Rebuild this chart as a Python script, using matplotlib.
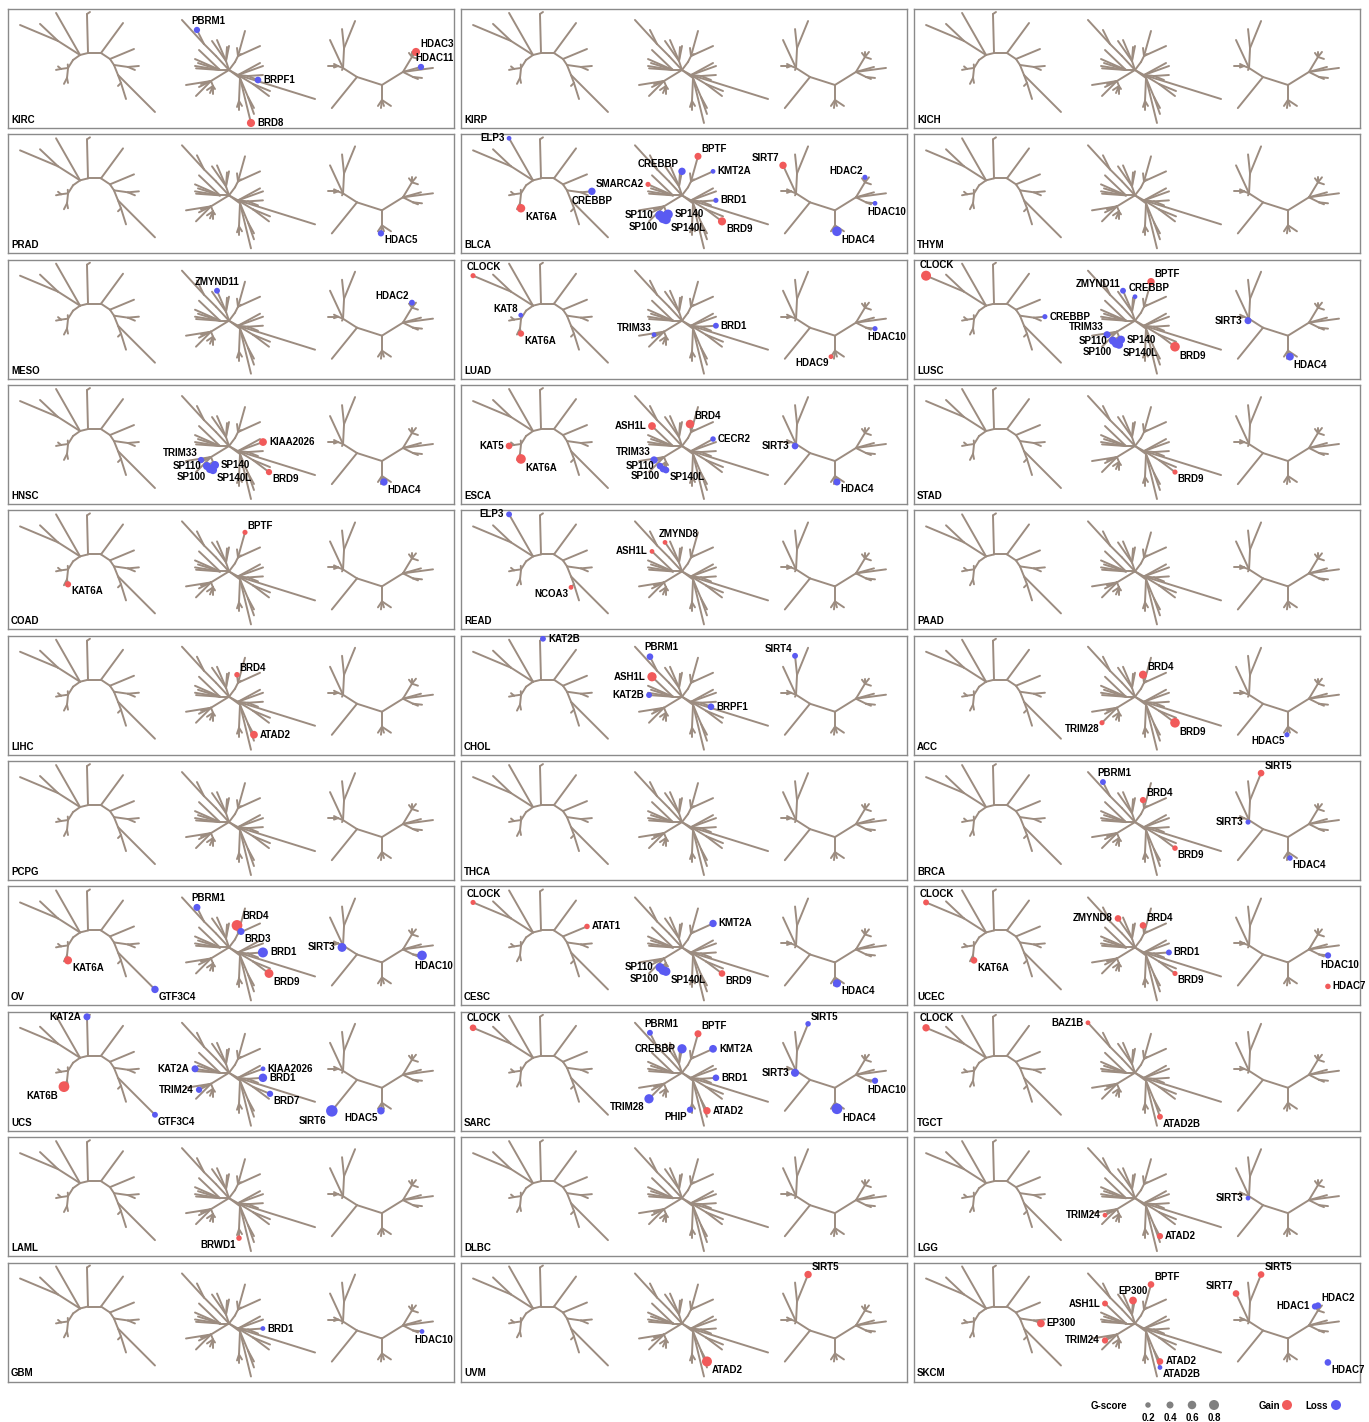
import numpy as np
import matplotlib
matplotlib.use('Agg')
import matplotlib.pyplot as plt
from matplotlib.collections import LineCollection

plt.rcParams['font.family'] = ['Liberation Sans', 'DejaVu Sans']

# tree branches: (node, parent, branch length, angle in degrees)
hat_tree = [
    ('KAT2A', 'root', 39, 91.5), ('KAT2B', 'KAT2A', 3.6, 34),
    ('h1', 'root', 8.2, 194), ('ELP3', 'h1', 48.4, 119.7),
    ('h2', 'h1', 26.1, 147.5), ('CLOCK', 'h2', 41.2, 157.2), ('h_t1', 'h2', 24.8, 136.6),
    ('h3', 'h1', 8.6, 215.5), ('h4', 'h3', 9.4, 238),
    ('h5', 'h4', 7.1, 188), ('KAT5', 'h5', 5.1, 191), ('h_t2', 'h5', 3.9, 140),
    ('KAT8', 'h4', 3.5, 95), ('h6', 'h4', 10, 264),
    ('KAT6A', 'h6', 5.1, 281), ('KAT6B', 'h6', 6.7, 243),
    ('h7', 'root', 13, 0), ('h_t3', 'h7', 37.2, 53.7),
    ('h8', 'h7', 10.8, 326.3), ('ATAT1', 'h8', 26, 22.6),
    ('h9', 'h8', 7.2, 303.7), ('h10', 'h9', 14.1, 351.9),
    ('CREBBP', 'h10', 11, 5.2), ('EP300', 'h10', 7.6, 336.8),
    ('h11', 'h9', 10.8, 291.8), ('GTF3C4', 'h11', 52.3, 315),
    ('h12', 'h11', 8.5, 290.6), ('h_t4', 'h12', 16.8, 287.4), ('NCOA3', 'h12', 4.2, 225),
]
brd_tree = [
    ('b1', 'root', 19.1, 132.9), ('b2', 'b1', 17, 135),
    ('BAZ1B', 'b2', 32.6, 132.5), ('PBRM1', 'b2', 15.7, 116.6),
    ('b3', 'root', 9.5, 108.4), ('ZMYND8', 'b3', 24.4, 125), ('ZMYND11', 'b3', 22.8, 113.2),
    ('CREBBP', 'b3', 15.3, 78.7), ('EP300', 'b3', 14, 85.9),
    ('b4', 'root', 10, 53.1), ('b5', 'b4', 6.7, 63.4),
    ('BPTF', 'b5', 26, 74.4), ('KMT2A', 'b5', 24.2, 24.4),
    ('BRD4', 'b5', 8.1, 97.1), ('BRD3', 'b5', 3.6, 33.7),
    ('b6', 'root', 9, 180), ('ASH1L', 'b6', 29, 136.4), ('SMARCA2', 'b6', 27.3, 156.3),
    ('b_t1', 'b6', 23.1, 162.4), ('KAT2A', 'b6', 25.3, 170.9), ('KAT2B', 'b6', 24, 176),
    ('b7', 'root', 21.1, 211.4), ('b_t2', 'b7', 25.3, 189.1),
    ('TRIM33', 'b7', 10.4, 196.7), ('TRIM24', 'b7', 13.4, 206.6), ('TRIM28', 'b7', 21.2, 225),
    ('b8', 'b7', 5.4, 291.8), ('SP110', 'b8', 7.2, 213.7), ('SP100', 'b8', 7.6, 246.8),
    ('SP140', 'b8', 3.6, 303.7), ('SP140L', 'b8', 8, 270),
    ('b9', 'root', 10.3, 330.9), ('CECR2', 'b9', 25.1, 28.6), ('KIAA2026', 'b9', 26.6, 19.8),
    ('b10', 'b9', 10, 354.3), ('BRD1', 'b10', 15, 3.8), ('BRPF1', 'b10', 10.8, 338.2),
    ('b_t3', 'b9', 80.7, 342.7), ('b11', 'b9', 17.5, 329),
    ('BRD7', 'b11', 18.4, 337.6), ('BRD9', 'b11', 20, 323.1),
    ('b12', 'root', 13.6, 324), ('b13', 'b12', 23, 267.5),
    ('PHIP', 'b13', 6.3, 251.6), ('BRWD1', 'b13', 9, 270), ('b_t4', 'b13', 5.8, 301),
    ('b14', 'b12', 20.6, 292.8), ('ATAD2', 'b14', 12.5, 298.6), ('ATAD2B', 'b14', 18, 289.4),
    ('BRD8', 'b12', 46.3, 283.7),
]
hdac_tree = [
    ('d1', 'root', 16.6, 147.3), ('SIRT3', 'd1', 2.2, 243),
    ('d2', 'd1', 20, 87.1), ('SIRT5', 'd2', 29.2, 67.8), ('SIRT4', 'd2', 19.1, 96),
    ('SIRT7', 'd1', 30.9, 114.9), ('d3', 'd1', 5.4, 158.2),
    ('SIRT1', 'd3', 10, 180), ('d_t1', 'd3', 4.5, 153), ('SIRT2', 'd3', 4.3, 200),
    ('SIRT6', 'root', 40, 231),
    ('d4', 'root', 26.2, 342.3), ('d5', 'd4', 15, 270),
    ('HDAC9', 'd5', 7.2, 236.3), ('HDAC5', 'd5', 8.1, 262.9), ('HDAC4', 'd5', 6.3, 288.4),
    ('d_t2', 'd5', 10.8, 326.3), ('HDAC7', 'd_t2', 31.1, 354.5),
    ('d6', 'd4', 24.7, 31.8), ('d7', 'd6', 17.5, 59),
    ('HDAC1', 'd7', 5, 126.9), ('HDAC2', 'd7', 5, 90), ('HDAC3', 'd7', 6.4, 51.3),
    ('HDAC8', 'd7', 6.3, 341.6), ('HDAC11', 'd6', 18.7, 15.5), ('d_t3', 'd6', 30.3, 7.6),
    ('d8', 'd6', 11.2, 333.4), ('HDAC10', 'd8', 9.1, 353.7), ('HDAC6', 'd8', 5.4, 338),
]
hidden_branches = {'HDAC7'}

# altered genes per cancer: (tree, gene, G-score, direction)
KIRC = [('brd', 'PBRM1', 0.3, 'loss'), ('brd', 'BRPF1', 0.35, 'loss'), ('brd', 'BRD8', 0.55, 'gain'),
        ('hdac', 'HDAC3', 0.55, 'gain'), ('hdac', 'HDAC11', 0.3, 'loss')]
KIRP = []
KICH = []
PRAD = [('hdac', 'HDAC5', 0.3, 'loss')]
BLCA = [('hat', 'ELP3', 0.1, 'loss'), ('hat', 'KAT6A', 0.6, 'gain'), ('hat', 'CREBBP', 0.45, 'loss'),
        ('brd', 'SMARCA2', 0.15, 'gain'), ('brd', 'CREBBP', 0.45, 'loss'), ('brd', 'BPTF', 0.4, 'gain'),
        ('brd', 'KMT2A', 0.1, 'loss'), ('brd', 'BRD1', 0.15, 'loss'), ('brd', 'BRD9', 0.55, 'gain'),
        ('brd', 'SP110', 0.75, 'loss'), ('brd', 'SP100', 0.75, 'loss'), ('brd', 'SP140', 0.75, 'loss'),
        ('brd', 'SP140L', 0.75, 'loss'), ('hdac', 'SIRT7', 0.45, 'gain'), ('hdac', 'HDAC2', 0.15, 'loss'),
        ('hdac', 'HDAC10', 0.1, 'loss'), ('hdac', 'HDAC4', 0.75, 'loss')]
THYM = []
MESO = [('brd', 'ZMYND11', 0.25, 'loss'), ('hdac', 'HDAC2', 0.25, 'loss')]
LUAD = [('hat', 'CLOCK', 0.15, 'gain'), ('hat', 'KAT8', 0.1, 'loss'), ('hat', 'KAT6A', 0.3, 'gain'),
        ('brd', 'TRIM33', 0.1, 'loss'), ('brd', 'BRD1', 0.25, 'loss'), ('hdac', 'HDAC10', 0.15, 'loss'),
        ('hdac', 'HDAC9', 0.1, 'gain')]
LUSC = [('hat', 'CLOCK', 0.8, 'gain'), ('hat', 'CREBBP', 0.15, 'loss'), ('brd', 'ZMYND11', 0.25, 'loss'),
        ('brd', 'BPTF', 0.45, 'gain'), ('brd', 'CREBBP', 0.1, 'loss'), ('brd', 'TRIM33', 0.4, 'loss'),
        ('brd', 'SP110', 0.55, 'loss'), ('brd', 'SP100', 0.55, 'loss'), ('brd', 'SP140', 0.55, 'loss'),
        ('brd', 'SP140L', 0.55, 'loss'), ('brd', 'BRD9', 0.75, 'gain'), ('hdac', 'SIRT3', 0.4, 'loss'),
        ('hdac', 'HDAC4', 0.5, 'loss')]
HNSC = [('brd', 'KIAA2026', 0.5, 'gain'), ('brd', 'BRD9', 0.3, 'gain'), ('brd', 'TRIM33', 0.3, 'loss'),
        ('brd', 'SP110', 0.55, 'loss'), ('brd', 'SP100', 0.55, 'loss'), ('brd', 'SP140', 0.55, 'loss'),
        ('brd', 'SP140L', 0.55, 'loss'), ('hdac', 'HDAC4', 0.45, 'loss')]
ESCA = [('hat', 'KAT5', 0.35, 'gain'), ('hat', 'KAT6A', 0.75, 'gain'), ('brd', 'ASH1L', 0.5, 'gain'),
        ('brd', 'BRD4', 0.6, 'gain'), ('brd', 'CECR2', 0.2, 'loss'), ('brd', 'TRIM33', 0.45, 'loss'),
        ('brd', 'SP110', 0.35, 'loss'), ('brd', 'SP100', 0.35, 'loss'), ('brd', 'SP140L', 0.35, 'loss'),
        ('hdac', 'SIRT3', 0.35, 'loss'), ('hdac', 'HDAC4', 0.4, 'loss')]
STAD = [('brd', 'BRD9', 0.15, 'gain')]
COAD = [('hat', 'KAT6A', 0.3, 'gain'), ('brd', 'BPTF', 0.15, 'gain')]
READ = [('hat', 'ELP3', 0.25, 'loss'), ('hat', 'NCOA3', 0.1, 'gain'), ('brd', 'ZMYND8', 0.1, 'gain'),
        ('brd', 'ASH1L', 0.1, 'gain')]
PAAD = []
LIHC = [('brd', 'BRD4', 0.2, 'gain'), ('brd', 'ATAD2', 0.5, 'gain')]
CHOL = [('hat', 'KAT2B', 0.25, 'loss'), ('brd', 'PBRM1', 0.35, 'loss'), ('brd', 'ASH1L', 0.7, 'gain'),
        ('brd', 'KAT2B', 0.25, 'loss'), ('brd', 'BRPF1', 0.35, 'loss'), ('hdac', 'SIRT4', 0.25, 'loss')]
ACC = [('brd', 'BRD4', 0.55, 'gain'), ('brd', 'TRIM28', 0.15, 'gain'), ('brd', 'BRD9', 0.75, 'gain'),
       ('hdac', 'HDAC5', 0.15, 'loss')]
PCPG = []
THCA = []
BRCA = [('brd', 'PBRM1', 0.25, 'loss'), ('brd', 'BRD4', 0.3, 'gain'), ('brd', 'BRD9', 0.2, 'gain'),
        ('hdac', 'SIRT5', 0.35, 'gain'), ('hdac', 'SIRT3', 0.15, 'loss'), ('hdac', 'HDAC4', 0.2, 'loss')]
OV = [('hat', 'KAT6A', 0.55, 'gain'), ('hat', 'GTF3C4', 0.45, 'loss'), ('brd', 'PBRM1', 0.4, 'loss'),
      ('brd', 'BRD4', 0.9, 'gain'), ('brd', 'BRD3', 0.4, 'loss'), ('brd', 'BRD1', 0.8, 'loss'),
      ('brd', 'BRD9', 0.65, 'gain'), ('hdac', 'SIRT3', 0.65, 'loss'), ('hdac', 'HDAC10', 0.75, 'loss')]
CESC = [('hat', 'CLOCK', 0.15, 'gain'), ('hat', 'ATAT1', 0.2, 'gain'), ('brd', 'KMT2A', 0.45, 'loss'),
        ('brd', 'SP110', 0.65, 'loss'), ('brd', 'SP100', 0.65, 'loss'), ('brd', 'SP140L', 0.65, 'loss'),
        ('brd', 'BRD9', 0.35, 'gain'), ('hdac', 'HDAC4', 0.55, 'loss')]
UCEC = [('hat', 'CLOCK', 0.25, 'gain'), ('hat', 'KAT6A', 0.35, 'gain'), ('brd', 'ZMYND8', 0.35, 'gain'),
        ('brd', 'BRD4', 0.35, 'gain'), ('brd', 'BRD1', 0.25, 'loss'), ('brd', 'BRD9', 0.15, 'gain'),
        ('hdac', 'HDAC10', 0.3, 'loss'), ('hdac', 'HDAC7', 0.2, 'gain')]
UCS = [('hat', 'KAT2A', 0.4, 'loss'), ('hat', 'KAT6B', 0.9, 'gain'), ('hat', 'GTF3C4', 0.25, 'loss'),
       ('brd', 'KAT2A', 0.4, 'loss'), ('brd', 'TRIM24', 0.3, 'loss'), ('brd', 'KIAA2026', 0.1, 'loss'),
       ('brd', 'BRD1', 0.6, 'loss'), ('brd', 'BRD7', 0.3, 'loss'), ('hdac', 'SIRT6', 1.0, 'loss'),
       ('hdac', 'HDAC5', 0.45, 'loss')]
SARC = [('hat', 'CLOCK', 0.35, 'gain'), ('brd', 'PBRM1', 0.25, 'loss'), ('brd', 'BPTF', 0.4, 'gain'),
        ('brd', 'CREBBP', 0.7, 'loss'), ('brd', 'KMT2A', 0.5, 'loss'), ('brd', 'BRD1', 0.35, 'loss'),
        ('brd', 'TRIM28', 0.7, 'loss'), ('brd', 'PHIP', 0.3, 'loss'), ('brd', 'ATAD2', 0.45, 'gain'),
        ('hdac', 'SIRT5', 0.2, 'loss'), ('hdac', 'SIRT3', 0.55, 'loss'), ('hdac', 'HDAC10', 0.3, 'loss'),
        ('hdac', 'HDAC4', 0.9, 'loss')]
TGCT = [('hat', 'CLOCK', 0.45, 'gain'), ('brd', 'BAZ1B', 0.1, 'gain'), ('brd', 'ATAD2B', 0.25, 'gain')]
LAML = [('brd', 'BRWD1', 0.2, 'gain')]
DLBC = []
LGG = [('brd', 'TRIM24', 0.1, 'gain'), ('brd', 'ATAD2', 0.3, 'gain'), ('hdac', 'SIRT3', 0.1, 'loss')]
GBM = [('brd', 'BRD1', 0.1, 'loss'), ('hdac', 'HDAC10', 0.1, 'loss')]
UVM = [('brd', 'ATAD2', 0.8, 'gain'), ('hdac', 'SIRT5', 0.45, 'gain')]
SKCM = [('hat', 'EP300', 0.5, 'gain'), ('brd', 'ASH1L', 0.25, 'gain'), ('brd', 'EP300', 0.5, 'gain'),
        ('brd', 'BPTF', 0.35, 'gain'), ('brd', 'TRIM24', 0.3, 'gain'), ('brd', 'ATAD2', 0.35, 'gain'),
        ('brd', 'ATAD2B', 0.1, 'loss'), ('hdac', 'SIRT7', 0.35, 'gain'), ('hdac', 'SIRT5', 0.35, 'gain'),
        ('hdac', 'HDAC1', 0.3, 'loss'), ('hdac', 'HDAC2', 0.3, 'loss'), ('hdac', 'HDAC7', 0.35, 'loss')]

panels = [('KIRC', KIRC), ('KIRP', KIRP), ('KICH', KICH),
          ('PRAD', PRAD), ('BLCA', BLCA), ('THYM', THYM),
          ('MESO', MESO), ('LUAD', LUAD), ('LUSC', LUSC),
          ('HNSC', HNSC), ('ESCA', ESCA), ('STAD', STAD),
          ('COAD', COAD), ('READ', READ), ('PAAD', PAAD),
          ('LIHC', LIHC), ('CHOL', CHOL), ('ACC', ACC),
          ('PCPG', PCPG), ('THCA', THCA), ('BRCA', BRCA),
          ('OV', OV), ('CESC', CESC), ('UCEC', UCEC),
          ('UCS', UCS), ('SARC', SARC), ('TGCT', TGCT),
          ('LAML', LAML), ('DLBC', DLBC), ('LGG', LGG),
          ('GBM', GBM), ('UVM', UVM), ('SKCM', SKCM)]

legend_scores = [0.2, 0.4, 0.6, 0.8]

# label placement around the dot
label_side = {
    ('hat', 'ELP3'): 'l', ('hat', 'KAT6A'): 'br', ('hat', 'CREBBP'): 'r', ('hat', 'CLOCK'): 'ts',
    ('hat', 'KAT8'): 'tl', ('hat', 'KAT5'): 'l', ('hat', 'KAT6B'): 'bl', ('hat', 'KAT2A'): 'l',
    ('hat', 'KAT2B'): 'r', ('hat', 'GTF3C4'): 'br', ('hat', 'NCOA3'): 'bl', ('hat', 'ATAT1'): 'r',
    ('hat', 'EP300'): 'r',
    ('brd', 'PBRM1'): 'ts', ('brd', 'BRPF1'): 'r', ('brd', 'BRD8'): 'r', ('brd', 'SMARCA2'): 'l',
    ('brd', 'CREBBP'): 'tl', ('brd', 'BPTF'): 'tr', ('brd', 'KMT2A'): 'r', ('brd', 'BRD1'): 'r',
    ('brd', 'BRD9'): 'br', ('brd', 'SP110'): 'l', ('brd', 'SP100'): 'bl', ('brd', 'SP140'): 'r',
    ('brd', 'SP140L'): 'br', ('brd', 'TRIM33'): 'tl', ('brd', 'TRIM24'): 'l', ('brd', 'TRIM28'): 'bl',
    ('brd', 'KIAA2026'): 'r', ('brd', 'BRD7'): 'br', ('brd', 'KAT2A'): 'l', ('brd', 'KAT2B'): 'l',
    ('brd', 'ASH1L'): 'l', ('brd', 'BRD4'): 'tr', ('brd', 'BRD3'): 'br', ('brd', 'CECR2'): 'r',
    ('brd', 'ZMYND11'): 't', ('brd', 'ZMYND8'): 'l', ('brd', 'ATAD2'): 'r', ('brd', 'ATAD2B'): 'br',
    ('brd', 'PHIP'): 'bl', ('brd', 'BRWD1'): 'bl', ('brd', 'BAZ1B'): 'l', ('brd', 'EP300'): 't',
    ('hdac', 'HDAC3'): 'tr', ('hdac', 'HDAC11'): 'ts', ('hdac', 'HDAC5'): 'bl', ('hdac', 'SIRT7'): 'tl',
    ('hdac', 'HDAC2'): 'tl', ('hdac', 'HDAC10'): 'bs', ('hdac', 'HDAC4'): 'br', ('hdac', 'HDAC9'): 'bl',
    ('hdac', 'SIRT3'): 'l', ('hdac', 'SIRT6'): 'bl', ('hdac', 'SIRT4'): 'tl', ('hdac', 'SIRT5'): 'tr',
    ('hdac', 'HDAC1'): 'l', ('hdac', 'HDAC7'): 'r',
}
label_side_panel = {
    ('BLCA', 'hat', 'CREBBP'): 'b', ('LUSC', 'brd', 'CREBBP'): 'ts', ('SARC', 'brd', 'CREBBP'): 'l',
    ('PRAD', 'hdac', 'HDAC5'): 'br', ('SKCM', 'hdac', 'HDAC2'): 'tr', ('READ', 'brd', 'ZMYND8'): 'ts',
    ('LUSC', 'brd', 'ZMYND11'): 'tl', ('SKCM', 'hdac', 'HDAC7'): 'br', ('UVM', 'brd', 'ATAD2'): 'br',
}

GAIN = '#f15a5a'
LOSS = '#5a5af2'
BRANCH = '#9c8c80'
W, H = 1369, 1422


def layout(branches, origin):
    pos = {'root': origin}
    segs = []
    for node, parent, length, ang in branches:
        x0, y0 = pos[parent]
        a = np.radians(ang)
        x1, y1 = x0 + length * np.cos(a), y0 - length * np.sin(a)
        pos[node] = (x1, y1)
        if node not in hidden_branches:
            segs.append([(x0, y0), (x1, y1)])
    return pos, segs


trees = {}
for key, branches, origin in [('hat', hat_tree, (80, 44)), ('brd', brd_tree, (221, 61)),
                              ('hdac', hdac_tree, (349, 68))]:
    trees[key] = layout(branches, origin)


def dot_px(g):
    # dot diameter in pixels for a G-score
    return 4 + 7.5 * g


def label_offset(side, r):
    return {
        'r': (r + 2, 0, 'left', 'center'), 'l': (-r - 2, 0, 'right', 'center'),
        't': (0, -r - 1, 'center', 'bottom'), 'b': (0, r + 1, 'center', 'top'),
        'tr': (r, -r + 1, 'left', 'bottom'), 'tl': (-r, -r + 1, 'right', 'bottom'),
        'br': (r, r - 1, 'left', 'top'), 'bl': (-r, r - 1, 'right', 'top'),
        'ts': (-6, -r - 1, 'left', 'bottom'), 'bs': (-8, r + 1, 'left', 'top'),
    }[side]


fig = plt.figure(figsize=(W / 100, H / 100), dpi=100)
col_x = [8, 461, 914]
pw, ph = 446, 119

for i, (name, hits) in enumerate(panels):
    r, c = divmod(i, 3)
    top = 9 + 125.35 * r
    ax = fig.add_axes([col_x[c] / W, 1 - (top + ph) / H, pw / W, ph / H])
    ax.set_xlim(0, pw)
    ax.set_ylim(ph, 0)
    ax.set_xticks([])
    ax.set_yticks([])
    for s in ax.spines.values():
        s.set_color('#8a8a8a')
        s.set_linewidth(1.0)
    for key in ('hat', 'brd', 'hdac'):
        ax.add_collection(LineCollection(trees[key][1], colors=BRANCH, linewidths=1.4,
                                         capstyle='round', zorder=1))
    for tree, gene, g, kind in hits:
        x, y = trees[tree][0][gene]
        d = dot_px(g)
        ax.scatter([x], [y], s=(d * 0.72) ** 2, color=GAIN if kind == 'gain' else LOSS,
                   edgecolors='none', zorder=3)
        side = label_side_panel.get((name, tree, gene), label_side[(tree, gene)])
        dx, dy, ha, va = label_offset(side, d / 2)
        ax.text(x + dx, y + dy, gene, fontsize=7, fontweight='bold', ha=ha, va=va, zorder=4)
    ax.text(3, ph - 3, name, fontsize=7, fontweight='bold', ha='left', va='bottom')

# legend strip
lax = fig.add_axes([0, 0, 1, 40 / H])
lax.set_xlim(0, W)
lax.set_ylim(40, 0)
lax.axis('off')
lax.text(1127, 24, 'G-score', fontsize=7, fontweight='bold', ha='right', va='center')
for j, g in enumerate(legend_scores):
    x = 1148 + 22 * j
    lax.scatter([x], [23], s=(dot_px(g) * 0.72) ** 2, color='#808080', edgecolors='none')
    lax.text(x, 36, f'{g:.1f}', fontsize=7, fontweight='bold', ha='center', va='center')
lax.text(1280, 24, 'Gain', fontsize=7, fontweight='bold', ha='right', va='center')
lax.scatter([1287], [23], s=(10 * 0.72) ** 2, color=GAIN, edgecolors='none')
lax.text(1328, 24, 'Loss', fontsize=7, fontweight='bold', ha='right', va='center')
lax.scatter([1336], [23], s=(10 * 0.72) ** 2, color=LOSS, edgecolors='none')

fig.savefig('out.png', dpi=100)
